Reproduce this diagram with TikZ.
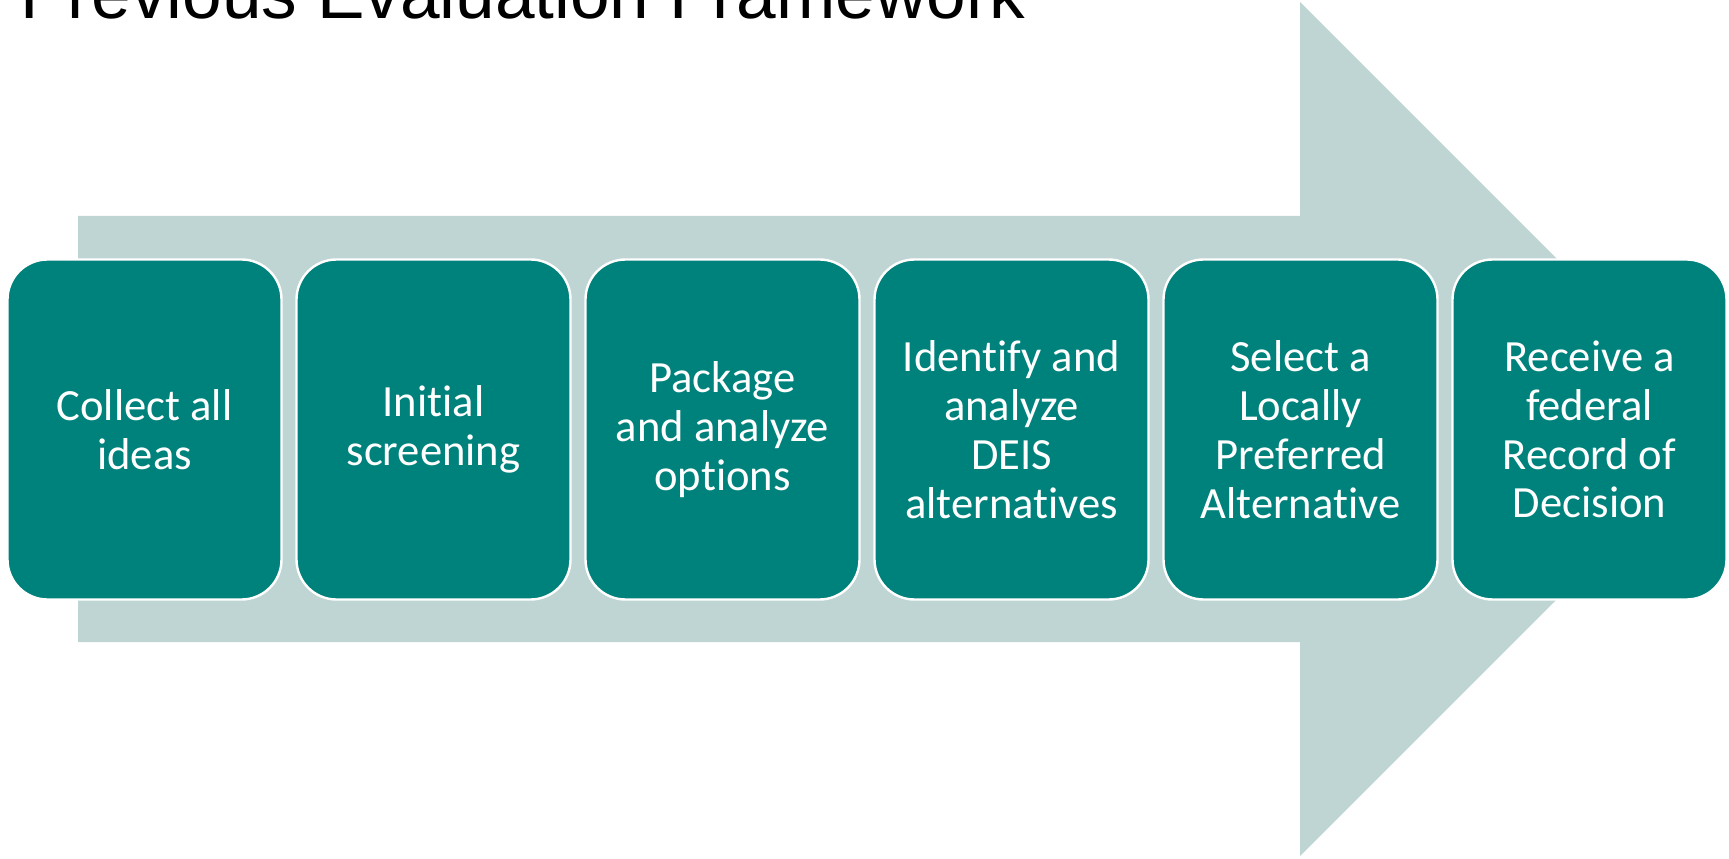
\documentclass[tikz,border=0pt]{standalone}
\usepackage{fontspec}
\setmainfont{Carlito}[Ligatures=NoCommon]
\newfontfamily\titlefont{Liberation Sans}
\usepackage{xcolor}
\usetikzlibrary{shapes,positioning}

\definecolor{arrowgrey}{RGB}{191,213,211}
\definecolor{stageteal}{RGB}{0,130,124}

\begin{document}
\begin{tikzpicture}[x=0.5pt, y=0.5pt]

% Process stages on top of a wide arrow
\tikzstyle{stagebox}=[rectangle, rounded corners=20pt, draw=white, line width=1.2pt, fill=stageteal, text=white, minimum width=137pt, minimum height=170pt, inner sep=0pt, outer sep=0pt, align=center, font=\fontsize{22.3}{24.4}\selectfont]

\useasboundingbox (0,0) rectangle (1729,858);

% Background arrow
\fill[arrowgrey] (78,216) -- (1300,216) -- (1300,2) -- (1727,429) -- (1300,856) -- (1300,642) -- (78,642) -- cycle;

% Title (runs off the top edge)
\node[anchor=base west, inner sep=0pt, font=\titlefont\fontsize{35.6}{40}\selectfont] (title) at (20,839) {Previous Evaluation Framework};

% Stages
\node[stagebox] (collect) at (144.5,428.5) {Collect all\\ideas};
\node[stagebox] (screen) at (433.5,428.5) {Initial\\screening};
\node[stagebox] (package) at (722.5,428.5) {Package\\and analyze\\options};
\node[stagebox] (deis) at (1011.5,428.5) {Identify and\\analyze\\DEIS\\alternatives};
\node[stagebox] (lpa) at (1300.5,428.5) {Select a\\Locally\\Preferred\\Alternative};
\node[stagebox] (rod) at (1589.5,428.5) {Receive a\\federal\\Record of\\Decision};

\end{tikzpicture}
\end{document}
